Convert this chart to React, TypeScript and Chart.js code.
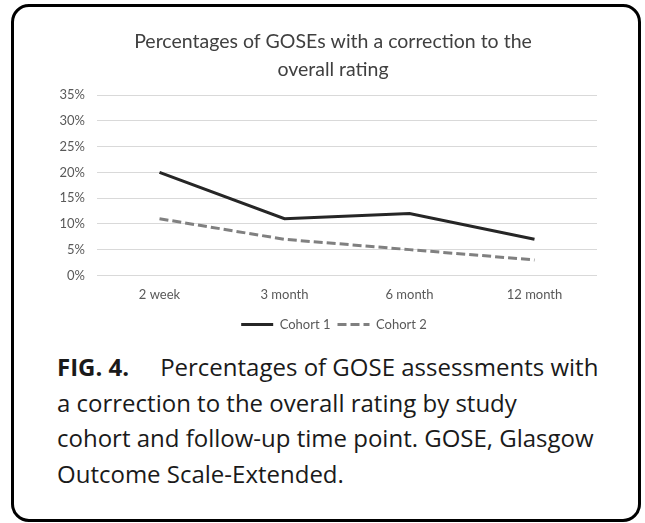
import React, { useEffect, useRef } from "react";
import { Chart, registerables } from "chart.js";

Chart.register(...registerables);

const chartTitle = ["Percentages of GOSEs with a correction to the", "overall rating"];
const categories = ["2 week", "3 month", "6 month", "12 month"];
const cohort1 = [20, 11, 12, 7];
const cohort2 = [11, 7, 5, 3];
const seriesNames = ["Cohort 1", "Cohort 2"];
const yMin = 0;
const yMax = 35;
const yStep = 5;

const captionLines = [
  "a correction to the overall rating by study",
  "cohort and follow-up time point. GOSE, Glasgow",
  "Outcome Scale-Extended.",
];

const shiftBoxes = {
  id: "shiftBoxes",
  afterLayout(chart: any) {
    if (chart.titleBlock) {
      chart.titleBlock.left += 6;
      chart.titleBlock.right += 6;
    }
    if (chart.legend) {
      chart.legend.left += 7;
      chart.legend.right += 7;
    }
  },
};

export default function App() {
  const canvasRef = useRef<HTMLCanvasElement | null>(null);

  useEffect(() => {
    if (!canvasRef.current) return;
    const tickFont = { family: "Lato", size: 13 };
    const chart = new Chart(canvasRef.current, {
      type: "line",
      data: {
        labels: categories,
        datasets: [
          {
            label: seriesNames[0],
            data: cohort1,
            borderColor: "#262626",
            backgroundColor: "#262626",
            borderWidth: 3,
            pointRadius: 0,
            tension: 0,
          },
          {
            label: seriesNames[1],
            data: cohort2,
            borderColor: "#808080",
            backgroundColor: "#808080",
            borderWidth: 3,
            borderDash: [9, 4],
            pointRadius: 0,
            tension: 0,
          },
        ],
      },
      plugins: [shiftBoxes],
      options: {
        animation: false,
        responsive: false,
        maintainAspectRatio: false,
        layout: { padding: { top: 18, left: 57, right: 48, bottom: 0 } },
        plugins: {
          title: {
            display: true,
            text: chartTitle,
            color: "#404040",
            font: { family: "Lato", size: 19.5, weight: "normal", lineHeight: 28 / 19.5 },
            padding: { top: 10, bottom: 11 },
          },
          legend: {
            position: "bottom",
            labels: {
              usePointStyle: true,
              pointStyle: "line",
              pointStyleWidth: 32,
              color: "#595959",
              font: tickFont,
              padding: 7,
              generateLabels: (c: any) => {
                const items = Chart.defaults.plugins.legend.labels.generateLabels(c);
                return items.map((it: any) => {
                  const ds: any = c.data.datasets[it.datasetIndex];
                  return {
                    ...it,
                    lineDash: ds.borderDash || [],
                    lineWidth: ds.borderWidth,
                    strokeStyle: ds.borderColor,
                    fillStyle: ds.borderColor,
                  };
                });
              },
            },
          },
          tooltip: { enabled: false },
        },
        scales: {
          x: {
            offset: true,
            grid: { display: false, drawTicks: false },
            border: { display: false },
            ticks: { color: "#595959", font: tickFont, padding: 12 },
            afterFit: (scale: any) => {
              scale.height -= 4;
            },
          },
          y: {
            min: yMin,
            max: yMax,
            grid: { color: "#d9d9d9", lineWidth: 1, drawTicks: false },
            border: { display: false },
            ticks: {
              stepSize: yStep,
              color: "#595959",
              font: tickFont,
              padding: 12,
              callback: (v: any) => `${v}%`,
            },
            afterFit: (scale: any) => {
              scale.width = 40;
            },
          },
        },
      },
    });
    return () => chart.destroy();
  }, []);

  return (
    <div style={{ position: "absolute", left: 0, top: 0, width: 645, height: 523, background: "#fff" }}>
      <div
        style={{
          position: "absolute",
          left: 11,
          top: 4,
          width: 630,
          height: 518,
          boxSizing: "border-box",
          border: "3px solid #000",
          borderRadius: 18,
        }}
      />
      <canvas
        ref={canvasRef}
        width={645}
        height={341}
        style={{ position: "absolute", left: 0, top: 0, width: 645, height: 341 }}
      />
      <div
        style={{
          position: "absolute",
          left: 57,
          top: 349,
          fontFamily: "'Open Sans', sans-serif",
          fontSize: 24,
          lineHeight: "35.5px",
          color: "#1a1a1a",
          whiteSpace: "nowrap",
        }}
      >
        <div>
          <span style={{ fontWeight: 700, marginRight: 31 }}>FIG. 4.</span>
          <span>Percentages of GOSE assessments with</span>
        </div>
        {captionLines.map((l, i) => (
          <div key={i}>{l}</div>
        ))}
      </div>
    </div>
  );
}
